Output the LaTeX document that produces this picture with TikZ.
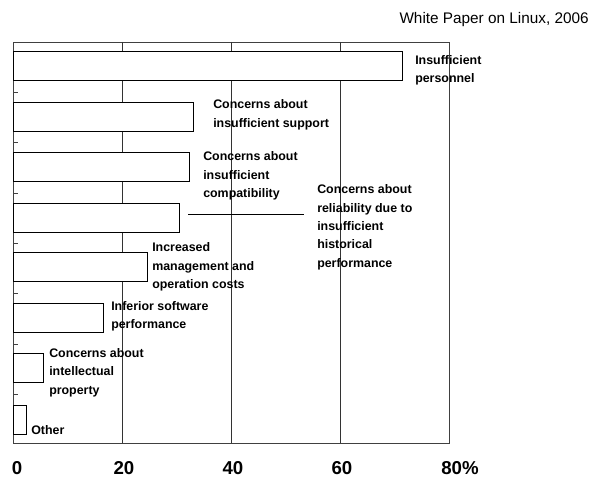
\documentclass[tikz,border=0pt]{standalone}
\usepackage{fontspec}
\setmainfont{Liberation Sans}
\begin{document}
\begin{tikzpicture}[x=0.75pt,y=-0.75pt,
  grid/.style={draw=black!80,line width=0.5pt},
  frame/.style={draw=black!75,line width=0.6pt},
  bar/.style={draw=black,fill=white,line width=0.75pt,anchor=west,minimum height={29*0.75pt},inner sep=0,outer sep=0},
  lab/.style={font=\bfseries\fontsize{9.3}{13.8}\selectfont,align=left,anchor=north west,inner sep=0},
  axl/.style={font=\bfseries\fontsize{14}{16}\selectfont,inner sep=0},
  leader/.style={draw=black,line width=0.6pt}]
\useasboundingbox (0,0) rectangle (601,484);
% title
\node[font=\fontsize{11.5}{13}\selectfont,anchor=east,inner sep=0] (title) at (589,20) {White Paper on Linux, 2006};
% frame and grid
\draw[frame] (13,42) rectangle (449,443);
\foreach \gx in {122,231,340} \draw[grid] (\gx,42) -- (\gx,443);
\foreach \ty in {92,142.5,193,243,293.5,344,394.5} \draw[frame] (13,\ty) -- (18,\ty);
% bars
\node[bar,minimum width={389*0.75pt}] (b1) at (13,66) {};
\node[bar,minimum width={180*0.75pt}] (b2) at (13,117.5) {};
\node[bar,minimum width={176*0.75pt}] (b3) at (13,167.5) {};
\node[bar,minimum width={166*0.75pt}] (b4) at (13,218) {};
\node[bar,minimum width={134*0.75pt}] (b5) at (13,267.5) {};
\node[bar,minimum width={90*0.75pt}] (b6) at (13,318.5) {};
\node[bar,minimum width={30*0.75pt}] (b7) at (13,368.5) {};
\node[bar,minimum width={13*0.75pt}] (b8) at (13,420) {};
% labels
\node[lab] (l1) at (415,55) {Insufficient\\personnel};
\node[lab] (l2) at (213,99.5) {Concerns about\\insufficient support};
\node[lab] (l3) at (203,151.5) {Concerns about\\insufficient\\compatibility};
\node[lab] (l4) at (317,184.5) {Concerns about\\reliability due to\\insufficient\\historical\\performance};
\node[lab] (l5) at (152,242.5) {Increased\\management and\\operation costs};
\node[lab] (l6) at (111,301) {Inferior software\\performance};
\node[lab] (l7) at (49,348) {Concerns about\\intellectual\\property};
\node[lab] (l8) at (31,425) {Other};
% leader line
\coordinate (la) at (188,214);
\coordinate (lb) at (304,214);
\draw[leader] (la) -- (lb);
% axis labels
\node[axl] (a0) at (17,468) {0};
\node[axl] (a20) at (124,468) {20};
\node[axl] (a40) at (233,468) {40};
\node[axl] (a60) at (342,468) {60};
\node[axl,anchor=west] (a80) at (441,468) {80\%};
\end{tikzpicture}
\end{document}
